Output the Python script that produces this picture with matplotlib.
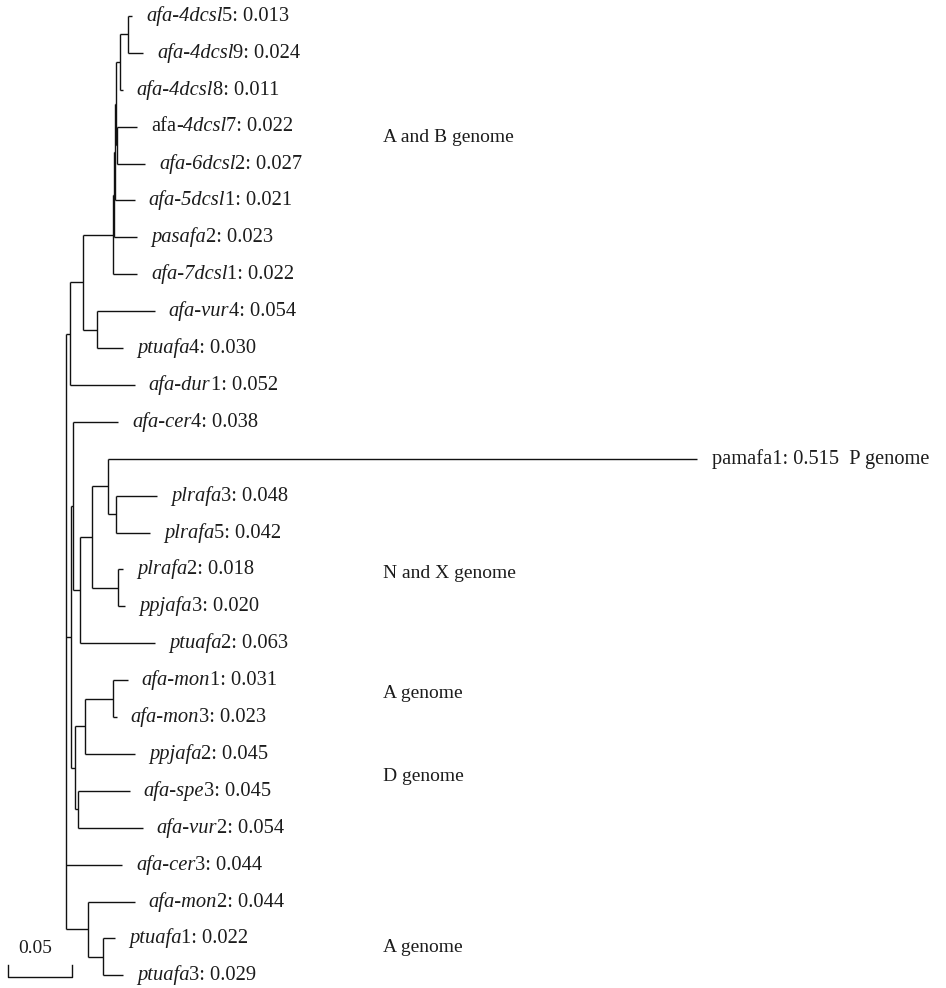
import matplotlib
matplotlib.use("Agg")
import matplotlib.pyplot as plt

# leaves, top to bottom
leaf_names = ["afa-4dcsl5", "afa-4dcsl9", "afa-4dcsl8", "afa-4dcsl7", "afa-6dcsl2",
              "afa-5dcsl1", "pasafa2", "afa-7dcsl1", "afa-vur4", "ptuafa4",
              "afa-dur1", "afa-cer4", "pamafa1", "plrafa3", "plrafa5",
              "plrafa2", "ppjafa3", "ptuafa2", "afa-mon1", "afa-mon3",
              "ppjafa2", "afa-spe3", "afa-vur2", "afa-cer3", "afa-mon2",
              "ptuafa1", "ptuafa3"]
leaf_values = ["0.013", "0.024", "0.011", "0.022", "0.027",
               "0.021", "0.023", "0.022", "0.054", "0.030",
               "0.052", "0.038", "0.515", "0.048", "0.042",
               "0.018", "0.020", "0.063", "0.031", "0.023",
               "0.045", "0.045", "0.054", "0.044", "0.044",
               "0.022", "0.029"]

# (child, parent, branch length) - children listed in top-to-bottom order
edges = [
    ("A", "R", 0.0031), ("X", "R", 0.0039), ("afa-cer3", "R", 0.0438), ("Z", "R", 0.0172),
    ("B", "A", 0.0102), ("afa-dur1", "A", 0.0508),
    ("C", "B", 0.0234), ("D", "B", 0.0109),
    ("E", "C", 0.0008), ("afa-7dcsl1", "C", 0.0188),
    ("F", "E", 0.0008), ("pasafa2", "E", 0.0180),
    ("G", "F", 0.0008), ("afa-5dcsl1", "F", 0.0156),
    ("I", "G", 0.0031), ("K", "G", 0.0008),
    ("H", "I", 0.0063), ("afa-4dcsl8", "I", 0.0023),
    ("afa-4dcsl5", "H", 0.0031), ("afa-4dcsl9", "H", 0.0117),
    ("afa-4dcsl7", "K", 0.0156), ("afa-6dcsl2", "K", 0.0219),
    ("afa-vur4", "D", 0.0453), ("ptuafa4", "D", 0.0203),
    ("V", "X", 0.0016), ("W", "X", 0.0031),
    ("afa-cer4", "V", 0.0352), ("U", "V", 0.0055),
    ("S", "U", 0.0094), ("ptuafa2", "U", 0.0586),
    ("Q", "S", 0.0125), ("T", "S", 0.0203),
    ("pamafa1", "Q", 0.4602), ("P", "Q", 0.0063),
    ("plrafa3", "P", 0.0320), ("plrafa5", "P", 0.0266),
    ("plrafa2", "T", 0.0039), ("ppjafa3", "T", 0.0055),
    ("M2", "W", 0.0078), ("SV", "W", 0.0023),
    ("M1", "M2", 0.0219), ("ppjafa2", "M2", 0.0390),
    ("afa-mon1", "M1", 0.0117), ("afa-mon3", "M1", 0.0031),
    ("afa-spe3", "SV", 0.0406), ("afa-vur2", "SV", 0.0508),
    ("afa-mon2", "Z", 0.0367), ("Y", "Z", 0.0117),
    ("ptuafa1", "Y", 0.0094), ("ptuafa3", "Y", 0.0156),
]

group_labels = ["A and B genome", "N and X genome", "A genome", "D genome", "A genome"]
group_rows = [3.3, 15.1, 18.35, 20.6, 25.25]

scale_len = 0.05

LINE = "#111111"
TXT = "#1c1c1c"
FS = 14
FS_LEAF = 14.8
plt.rcParams['font.family'] = ['Liberation Serif', 'DejaVu Serif']

children = {}
blen = {}
for c, p, l in edges:
    children.setdefault(p, []).append(c)
    blen[c] = l
row = {n: i for i, n in enumerate(leaf_names)}

fig = plt.figure(figsize=(9.46, 9.88), dpi=100)
ax = fig.add_axes([0, 0, 1, 1])
K = 1280.0  # px per unit distance
ax.set_xlim(-66 / K, (946 - 66) / K)
ax.set_ylim((988 - 16) / 36.9, -16 / 36.9)
ax.axis("off")

tips = {}


def layout(node, x0):
    x = x0 + blen.get(node, 0.0)
    if node in row:
        tips[node] = x
        return x, row[node]
    kids = [layout(c, x) for c in children[node]]
    ys = [k[1] for k in kids]
    ax.plot([x, x], [ys[0], ys[-1]], color=LINE, lw=1.0, solid_capstyle="butt")
    for kx, ky in kids:
        ax.plot([x, kx], [ky, ky], color=LINE, lw=1.0, solid_capstyle="butt")
    return x, (ys[0] + ys[-1]) / 2


layout("R", 0.0)


def split_name(name):
    i = len(name)
    while i > 0 and name[i - 1].isdigit():
        i -= 1
    return name[:i], name[i:]


for name, val in zip(leaf_names, leaf_values):
    x, y = tips[name], row[name]
    if name == "pamafa1":
        ax.annotate("pamafa1: " + val + "  P genome", (x, y), xytext=(11, 0),
                    textcoords="offset points", va="center", ha="left",
                    fontsize=14.7, color=TXT)
        continue
    stem, digits = split_name(name)
    pieces = []
    if name == "afa-4dcsl7":
        pieces.append(("afa", "normal"))
        stem = stem[3:]
    pieces.append((stem, "italic"))
    pieces.append((digits + ": " + val, "normal"))
    prev = None
    for txt, style in pieces:
        if prev is None:
            prev = ax.annotate(txt, (x, y), xytext=(10, 0), textcoords="offset points",
                               va="center", ha="left", fontsize=FS_LEAF, color=TXT,
                               style=style)
        else:
            prev = ax.annotate(txt, (1, 0), xycoords=prev, va="bottom", ha="left",
                               fontsize=FS_LEAF, color=TXT, style=style)

gx = (383 - 66) / K
for lab, r in zip(group_labels, group_rows):
    ax.text(gx, r, lab, fontsize=FS, color=TXT, va="center", ha="left")

# scale bar
sx = (8 - 66) / K
sy = 26.04
ax.plot([sx, sx, sx + scale_len, sx + scale_len], [sy - 0.32, sy, sy, sy - 0.32],
        color=LINE, lw=1.0)
ax.text(sx + scale_len * 0.42, sy - 0.76, "0.05", fontsize=FS, color=TXT,
        ha="center", va="center")

fig.savefig("out.png", dpi=100)
